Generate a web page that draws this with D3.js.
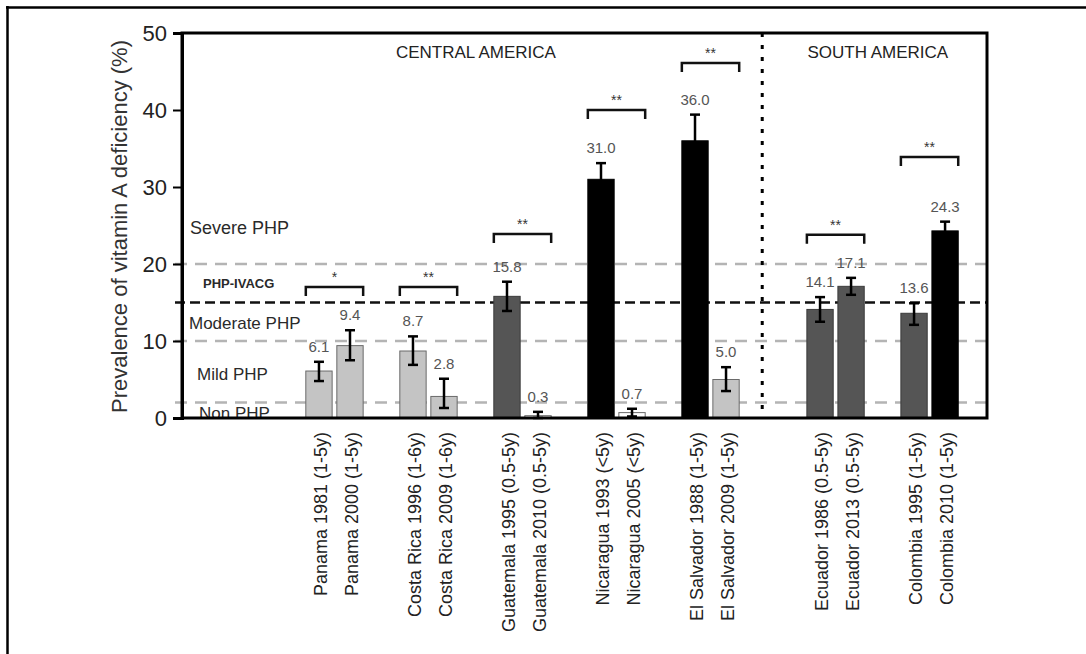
<!DOCTYPE html>
<html>
<head>
<meta charset="utf-8">
<script src="https://cdn.jsdelivr.net/npm/d3@7"></script>
<style>
  html, body { margin: 0; padding: 0; background: #fff; }
  svg { display: block; font-family: "Liberation Sans", Arial, sans-serif; }
</style>
</head>
<body>
<svg id="chart" width="1086" height="654"></svg>
<script>
// ---------------- data ----------------
const groups = ["Panama", "Costa Rica", "Guatemala", "Nicaragua", "El Salvador", "Ecuador", "Colombia"];
const groupRegion = ["Central", "Central", "Central", "Central", "Central", "South", "South"];
const barLabels = [
  "Panama 1981 (1-5y)", "Panama 2000 (1-5y)",
  "Costa Rica 1996 (1-6y)", "Costa Rica 2009 (1-6y)",
  "Guatemala 1995 (0.5-5y)", "Guatemala 2010 (0.5-5y)",
  "Nicaragua 1993 (<5y)", "Nicaragua 2005 (<5y)",
  "El Salvador 1988 (1-5y)", "El Salvador 2009 (1-5y)",
  "Ecuador 1986 (0.5-5y)", "Ecuador 2013 (0.5-5y)",
  "Colombia 1995 (1-5y)", "Colombia 2010 (1-5y)"
];
const values   = [6.1, 9.4, 8.7, 2.8, 15.8, 0.3, 31.0, 0.7, 36.0, 5.0, 14.1, 17.1, 13.6, 24.3];
const errLow   = [4.8, 7.5, 6.9, 1.3, 13.9, 0.0, 28.9, 0.2, 32.6, 3.5, 12.5, 16.0, 12.1, 23.1];
const errHigh  = [7.3, 11.4, 10.6, 5.1, 17.7, 0.8, 33.1, 1.2, 39.4, 6.6, 15.7, 18.2, 14.9, 25.5];
const sigMarks  = ["*", "**", "**", "**", "**", "**", "**"];
const sigLevels = [17.0, 17.0, 23.9, 40.0, 46.1, 23.8, 33.9];
const yTicks = [0, 10, 20, 30, 40, 50];
const zoneLines = [20, 15, 10, 2];          // Severe, PHP-IVACG, Moderate, Mild thresholds
const zoneLabels = ["Severe PHP", "PHP-IVACG", "Moderate PHP", "Mild PHP", "Non PHP"];
const zoneLabelAt = [24.7, 17.5, 12.3, 5.7, 0.7];
const regionNames = ["CENTRAL AMERICA", "SOUTH AMERICA"];
const yTitle = "Prevalence of vitamin A deficiency (%)";

// ---------------- layout ----------------
const W = 1086, H = 654;
const plot = { left: 182, right: 987, top: 33, bottom: 418 };
const svg = d3.select("#chart");

// outer frame (top and left edges visible)
svg.append("line").attr("x1", 6).attr("x2", W).attr("y1", 7.5).attr("y2", 7.5)
  .attr("stroke", "#000").attr("stroke-width", 2.5);
svg.append("line").attr("x1", 7.5).attr("x2", 7.5).attr("y1", 6).attr("y2", H)
  .attr("stroke", "#000").attr("stroke-width", 2.5);

const y = d3.scaleLinear().domain([0, 50]).range([plot.bottom, plot.top]);

// group slot position: South America groups are shifted by an extra gap
const slotOf = i => i + (groupRegion[i] === "South" ? 0.33 : 0);
const x = d3.scaleLinear().domain([-1.622, 6.941]).range([plot.left, plot.right]);
const slotW = x(1) - x(0);
const barW = slotW * 0.28;
const barOff = slotW * 0.165;

const bars = values.map((v, k) => {
  const g = Math.floor(k / 2), side = k % 2;
  const cx = x(slotOf(g)) + (side === 0 ? -barOff : barOff);
  return { v, k, g, cx, lo: errLow[k], hi: errHigh[k], label: barLabels[k] };
});

function fillFor(v) {
  if (v >= zoneLines[0]) return "#000000";
  if (v >= zoneLines[2]) return "#555555";
  if (v >= zoneLines[3]) return "#c4c4c4";
  return "#ffffff";
}
function strokeFor(v) {
  if (v >= zoneLines[0]) return "#000000";
  if (v >= zoneLines[2]) return "#3a3a3a";
  return "#6a6a6a";
}

// threshold lines
zoneLines.forEach((t, i) => {
  const black = (i === 1);
  svg.append("line")
    .attr("x1", plot.left - 7).attr("x2", plot.right)
    .attr("y1", y(t)).attr("y2", y(t))
    .attr("stroke", black ? "#111" : "#b4b4b4")
    .attr("stroke-width", 2.5)
    .attr("stroke-dasharray", black ? "10,5" : "12,8");
});

// zone labels
const zoneX = [190, 203, 189, 197, 199];
zoneLabels.forEach((t, i) => {
  svg.append("text")
    .attr("x", zoneX[i]).attr("y", y(zoneLabelAt[i]))
    .attr("dy", "0.35em")
    .attr("fill", "#2a2a2a")
    .attr("font-size", i === 1 ? 13 : (i === 0 ? 18 : 17))
    .attr("font-weight", i === 1 ? "bold" : "normal")
    .text(t);
});

// bars
svg.append("g").selectAll("rect").data(bars).join("rect")
  .attr("x", d => d.cx - barW / 2)
  .attr("width", barW)
  .attr("y", d => y(d.v))
  .attr("height", d => y(0) - y(d.v))
  .attr("fill", d => fillFor(d.v))
  .attr("stroke", d => strokeFor(d.v))
  .attr("stroke-width", 1);

// error bars
const eg = svg.append("g").attr("stroke", "#000").attr("stroke-width", 2.5);
bars.forEach(d => {
  eg.append("line").attr("x1", d.cx).attr("x2", d.cx).attr("y1", y(d.lo)).attr("y2", y(d.hi));
  eg.append("line").attr("x1", d.cx - 5).attr("x2", d.cx + 5).attr("y1", y(d.hi)).attr("y2", y(d.hi));
  eg.append("line").attr("x1", d.cx - 5).attr("x2", d.cx + 5).attr("y1", y(d.lo)).attr("y2", y(d.lo));
});

// value labels
svg.append("g").selectAll("text").data(bars).join("text")
  .attr("x", d => d.cx)
  .attr("y", d => y(d.hi) - 10)
  .attr("text-anchor", "middle")
  .attr("fill", "#555")
  .attr("font-size", 15)
  .text(d => d.v.toFixed(1));

// significance brackets
groups.forEach((g, i) => {
  const left = bars[2 * i].cx - barW / 2;
  const right = bars[2 * i + 1].cx + barW / 2;
  const yy = y(sigLevels[i]);
  svg.append("path")
    .attr("d", `M${left},${yy + 9}V${yy}H${right}V${yy + 9}`)
    .attr("fill", "none").attr("stroke", "#111").attr("stroke-width", 2.5);
  svg.append("text")
    .attr("x", (left + right) / 2).attr("y", yy - 5)
    .attr("text-anchor", "middle")
    .attr("fill", "#333").attr("font-size", 14)
    .text(sigMarks[i]);
});

// region divider (dotted)
svg.append("line")
  .attr("x1", x(4.55)).attr("x2", x(4.55))
  .attr("y1", plot.top).attr("y2", plot.bottom)
  .attr("stroke", "#000").attr("stroke-width", 3)
  .attr("stroke-dasharray", "4,8");

// region labels
svg.append("text").attr("x", x(1.505)).attr("y", 52).attr("dy", "0.35em")
  .attr("text-anchor", "middle").attr("font-size", 17).attr("fill", "#222").text(regionNames[0]);
svg.append("text").attr("x", x(5.78)).attr("y", 52).attr("dy", "0.35em")
  .attr("text-anchor", "middle").attr("font-size", 17).attr("fill", "#222").text(regionNames[1]);

// plot frame
svg.append("rect")
  .attr("x", plot.left).attr("y", plot.top)
  .attr("width", plot.right - plot.left).attr("height", plot.bottom - plot.top)
  .attr("fill", "none").attr("stroke", "#000").attr("stroke-width", 3);

// y axis
const yAxis = svg.append("g")
  .attr("transform", `translate(${plot.left},0)`)
  .call(d3.axisLeft(y).tickValues(yTicks).tickSize(9).tickPadding(6).tickFormat(d3.format("d")));
yAxis.select(".domain").attr("stroke-width", 3);
yAxis.selectAll(".tick line").attr("stroke-width", 2);
yAxis.selectAll(".tick text")
  .attr("font-size", 22).attr("fill", "#222")
  .attr("font-family", "'Liberation Sans', Arial, sans-serif");

// y title
svg.append("text")
  .attr("transform", `translate(119,${(plot.top + plot.bottom) / 2 + 1}) rotate(-90)`)
  .attr("text-anchor", "middle").attr("dy", "0.35em")
  .attr("font-size", 22).attr("fill", "#333")
  .text(yTitle);

// x labels (rotated)
svg.append("g").selectAll("text").data(bars).join("text")
  .attr("transform", d => `translate(${d.cx + 2},432) rotate(-90)`)
  .attr("text-anchor", "end").attr("dy", "0.35em")
  .attr("font-size", 18).attr("fill", "#222")
  .text(d => d.label);
</script>
</body>
</html>
